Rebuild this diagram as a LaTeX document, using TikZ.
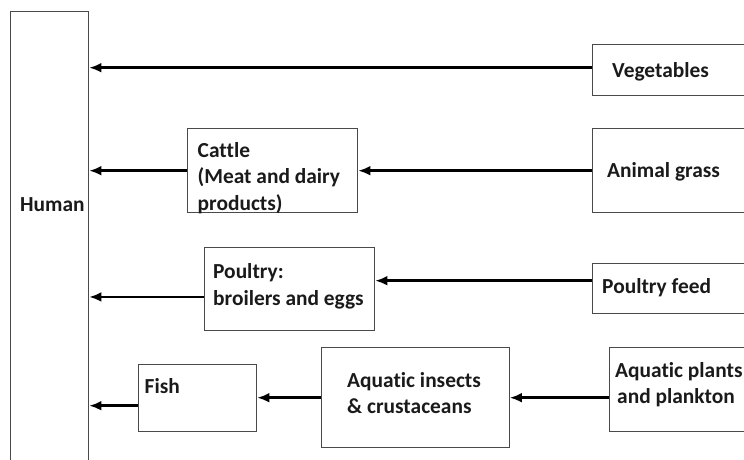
\documentclass[tikz,border=0pt]{standalone}
\usepackage{fontspec}
\setmainfont[Ligatures=NoCommon]{Carlito}
\usetikzlibrary{arrows.meta}
\definecolor{boxgray}{HTML}{4A4A4A}
\definecolor{txtcol}{HTML}{1A1A1A}
\begin{document}
\begin{tikzpicture}[x=1pt,y=-1pt,
  box/.style={draw=boxgray, line width=1.4pt, rectangle, inner sep=0pt, anchor=north west},
  txt/.style={font=\fontsize{21.4}{26.5}\selectfont\bfseries, text=txtcol, inner sep=0pt, anchor=base west},
  arr/.style={draw=black, line width=2.7pt, -{Latex[length=12pt,width=10pt]}}]
\useasboundingbox (0,0) rectangle (744,459);
\clip (0,0) rectangle (744,459);
% boxes
\node[box, minimum width=78pt, minimum height=470pt] (human) at (10,11) {};
\node[box, minimum width=170pt, minimum height=51pt] (veg) at (592,44) {};
\node[box, minimum width=170pt, minimum height=84pt] (grass) at (592,128) {};
\node[box, minimum width=170pt, minimum height=84pt] (cattle) at (187,128) {};
\node[box, minimum width=170pt, minimum height=83.5pt] (poultry) at (204,246.5) {};
\node[box, minimum width=170pt, minimum height=50pt] (feed) at (592,263) {};
\node[box, minimum width=160pt, minimum height=84pt] (plants) at (609,347) {};
\node[box, minimum width=187.5pt, minimum height=100pt] (insects) at (321,347) {};
\node[box, minimum width=118pt, minimum height=67pt] (fish) at (138,364) {};
% texts
\node[txt] (thuman) at (20,211) {Human};
\node[txt] (tveg) at (612,77) {Vegetables};
\node[txt] (tgrass) at (607,177) {Animal grass};
\node[txt] (tcattle) at (197.5,157) {\vtop{\hbox{Cattle}\hbox{(Meat and dairy}\hbox{products)}}};
\node[txt] (tpoultry) at (213,278.5) {\vtop{\hbox{Poultry:}\hbox{broilers and eggs}}};
\node[txt] (tfeed) at (602,293) {Poultry feed};
\node[txt] (tfish) at (144.5,393.5) {Fish};
\node[txt] (tinsects) at (347,387) {\vtop{\hbox{Aquatic insects}\hbox{\& crustaceans}}};
\node[txt] (tplants) at (615,377) {\vtop{\hbox{Aquatic plants}\hbox{\kern2pt and plankton}}};
% arrow start points
\coordinate (sveg) at ([yshift=2.5pt]veg.west);
\coordinate (sfeed) at ([yshift=8pt]feed.west);
\coordinate (spoultry) at ([yshift=-8pt]poultry.west);
\coordinate (splants) at ([yshift=-8pt]plants.west);
\coordinate (sfish) at ([yshift=-7.5pt]fish.west);
% arrows
\draw[arr] (sveg) -- (human.east |- sveg);
\draw[arr] (grass.west) -- (cattle.east |- grass.west);
\draw[arr] (cattle.west) -- (human.east |- cattle.west);
\draw[arr] (sfeed) -- (poultry.east |- sfeed);
\draw[arr] (spoultry) -- (human.east |- spoultry);
\draw[arr] (splants) -- (insects.east |- splants);
\draw[arr] (insects.west) -- (fish.east |- insects.west);
\draw[arr] (sfish) -- (human.east |- sfish);
\end{tikzpicture}
\end{document}
